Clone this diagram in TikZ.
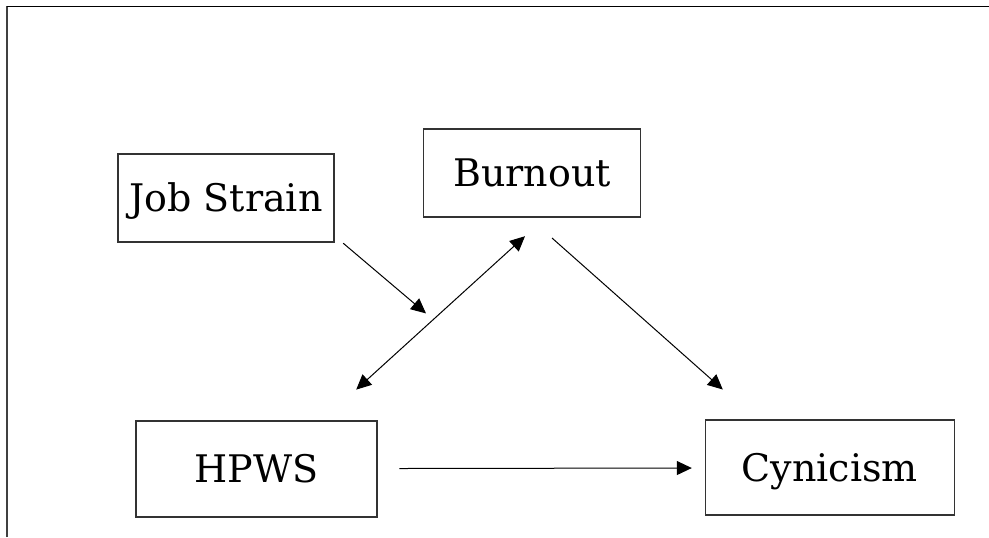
\documentclass[tikz,border=0pt]{standalone}
\usepackage{fontspec}
\setmainfont{DejaVu Serif}
\usetikzlibrary{arrows.meta}

\tikzset{
  var/.style={draw=black!80, line width=0.7pt, inner sep=0pt, text height=13.9pt, text depth=0pt, font=\fontsize{19}{23}\selectfont},
  tip/.tip={Triangle[length=7.5pt, width=7pt]},
  path/.style={line width=0.5pt, -tip}
}

\begin{document}
\begin{tikzpicture}[x=0.5pt, y=-0.5pt]
  \useasboundingbox (0,0) rectangle (989,537);
  % frame
  \draw[black!75, line width=1pt] (7,537) -- (7,6);
  \draw[line width=0.5pt] (6.5,6) -- (989,6);

  % variables
  \node[var, minimum width=108pt, minimum height=44pt] (strain) at (226,198) {Job Strain};
  \node[var, minimum width=108.5pt, minimum height=44pt] (burnout) at (532,173) {Burnout};
  \node[var, minimum width=120.5pt, minimum height=48pt] (hpws) at (256.5,469) {HPWS};
  \node[var, minimum width=124.5pt, minimum height=47.5pt] (cynic) at (829.7,467.3) {Cynicism};

  % moderation points at the burnout--hpws link
  \coordinate (mod) at (426,313.4);

  \draw[path] ([shift={(8.5,0.5)}]strain.south east) -- (mod);
  \draw[path, tip-tip] ([shift={(-21.5,-30.7)}]hpws.north east) -- ([shift={(-7,18.5)}]burnout.south);
  \draw[path] ([shift={(20,20.3)}]burnout.south) -- ([shift={(18.3,-29.6)}]cynic.north west);
  \draw[path] ([shift={(21.7,-0.5)}]hpws.east) -- ([shift={(-12.7,0.7)}]cynic.west);
\end{tikzpicture}
\end{document}
